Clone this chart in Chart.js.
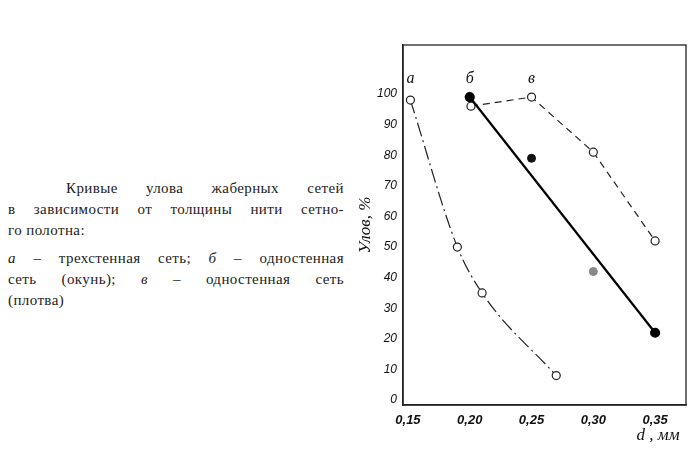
<!DOCTYPE html><html><head><meta charset="utf-8">
<script src="https://cdn.jsdelivr.net/npm/chart.js@4"></script>
<style>
body{margin:0;width:700px;height:467px;background:#fff;position:relative;font-family:"Liberation Serif",serif;}
#txt{position:absolute;left:8px;top:178px;width:336px;font-size:15px;line-height:21px;color:#222;letter-spacing:0.4px}
.l{display:flex;justify-content:space-between}
#wrap{position:absolute;left:340px;top:0;width:360px;height:467px}
</style></head><body>
<div id="txt">
<div class="l" style="padding-left:58px"><span>Кривые</span><span>улова</span><span>жаберных</span><span>сетей</span></div>
<div class="l"><span>в</span><span>зависимости</span><span>от</span><span>толщины</span><span>нити</span><span>сетно-</span></div>
<div>го полотна:</div>
<div class="l" style="margin-top:7px"><span><i>а</i></span><span>–</span><span>трехстенная</span><span>сеть;</span><span><i>б</i></span><span>–</span><span>одностенная</span></div>
<div class="l"><span>сеть</span><span>(окунь);</span><span><i>в</i></span><span>–</span><span>одностенная</span><span>сеть</span></div>
<div>(плотва)</div></div>
<div id="wrap"><canvas id="c" width="360" height="467"></canvas></div>
<script>
const xTicks=[0.15,0.20,0.25,0.30,0.35];
const yTicks=[0,10,20,30,40,50,60,70,80,90,100];
const aX=[0.152,0.19,0.21,0.27], aY=[98,50,35,8];
const bX=[0.20,0.35], bY=[99,22];
const bExtraX=[0.25,0.30], bExtraY=[79,42];
const vX=[0.201,0.25,0.30,0.35], vY=[96,99,81,52];
const labels=[{t:'а',x:0.152,y:103.5},{t:'б',x:0.20,y:103.5},{t:'в',x:0.25,y:103.5}];
const pts=(xs,ys)=>xs.map((x,i)=>({x,y:ys[i]}));
const lbl={id:'lbl',afterDatasetsDraw(ch){const c=ch.ctx;c.save();c.font='italic 16px "Liberation Serif"';c.fillStyle='#111';c.textAlign='center';
labels.forEach(l=>c.fillText(l.t,ch.scales.x.getPixelForValue(l.x),ch.scales.y.getPixelForValue(l.y)));
c.font='italic 17px "Liberation Serif"';c.fillText('d , мм',318,440);
c.translate(30,225);c.rotate(-Math.PI/2);c.fillText('Улов, %',0,0);c.restore();}};
new Chart(document.getElementById('c'),{type:'scatter',
data:{datasets:[
{data:pts(aX,aY),showLine:true,cubicInterpolationMode:'monotone',borderColor:'#222',borderWidth:1.2,borderDash:[14,4,2,4],pointRadius:4,pointBackgroundColor:'#fff',pointBorderColor:'#222'},
{data:pts(bX,bY),showLine:true,borderColor:'#000',borderWidth:2.2,pointRadius:4,pointBackgroundColor:'#000',pointBorderColor:'#000'},
{data:pts(bExtraX,bExtraY),showLine:false,pointRadius:4,pointBackgroundColor:['#111','#888'],pointBorderColor:['#111','#888']},
{data:pts(vX,vY),showLine:true,borderColor:'#222',borderWidth:1.2,borderDash:[7,5],pointRadius:4,pointBackgroundColor:'#fff',pointBorderColor:'#222'}
]},
options:{responsive:false,animation:false,layout:{padding:{top:45,right:14}},
plugins:{legend:{display:false},tooltip:{enabled:false}},
scales:{
x:{min:0.146,max:0.375,afterFit(a){a.height=62},afterBuildTicks(a){a.ticks=xTicks.map(v=>({value:v}))},
grid:{display:false,drawTicks:true,tickLength:5,color:'#222'},border:{color:'#222',width:1.5},
ticks:{color:'#111',font:{family:'Liberation Sans',style:'italic',weight:'bold',size:13},callback:v=>v.toFixed(2).replace('.',','),maxRotation:0}},
y:{min:-1.6,max:116,afterFit(a){a.width=63},afterBuildTicks(a){a.ticks=yTicks.map(v=>({value:v}))},
grid:{display:false,tickLength:4,color:'#222'},border:{color:'#222',width:1.5},
ticks:{color:'#111',font:{family:'Liberation Sans',style:'italic',size:12},padding:2}}
}},
plugins:[lbl,{id:'frame',afterDraw(ch){const a=ch.chartArea,c=ch.ctx;c.save();c.strokeStyle='#222';c.lineWidth=1.3;c.strokeRect(a.left,a.top,a.right-a.left,a.bottom-a.top);c.restore();}}]
});
</script></body></html>
